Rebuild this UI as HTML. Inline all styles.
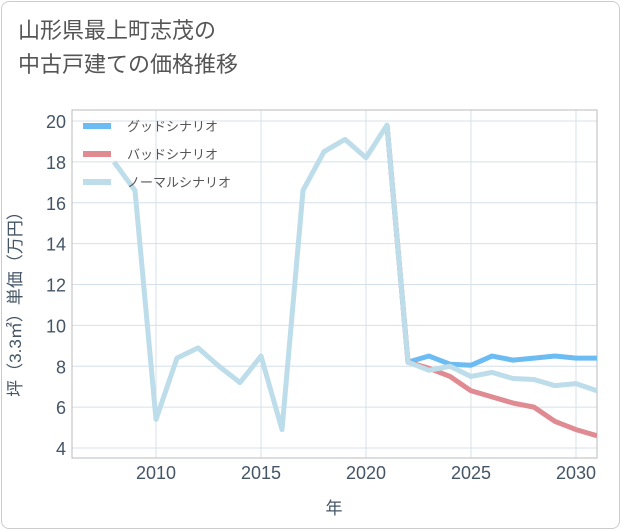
<!DOCTYPE html>
<html><head><meta charset="utf-8"><style>
body{margin:0;background:#fff;font-family:"Liberation Sans","Noto Sans CJK JP",sans-serif}
#card{position:absolute;left:1px;top:1px;width:617px;height:526px;border:1px solid #ccc;border-radius:8px;background:#fff}
#title{position:absolute;left:18px;top:14px;font-size:22px;line-height:34px;color:#555}
</style></head><body>
<div id="card"></div>
<div id="title">山形県最上町志茂の<br>中古戸建ての価格推移</div>
<svg id="chart" width="621" height="530" style="position:absolute;left:0;top:0"></svg>
<script>
const years=[2008,2009,2010,2011,2012,2013,2014,2015,2016,2017,2018,2019,2020,2021,2022,2023,2024,2025,2026,2027,2028,2029,2030,2031];
const normal=[18.0,16.6,5.4,8.4,8.9,8.0,7.2,8.5,4.9,16.6,18.5,19.1,18.2,19.8,8.2,7.8,8.0,7.5,7.7,7.4,7.35,7.05,7.15,6.8];
const futYears=[2021,2022,2023,2024,2025,2026,2027,2028,2029,2030,2031];
const good=[19.8,8.2,8.5,8.1,8.05,8.5,8.3,8.4,8.5,8.4,8.4];
const bad=[19.8,8.2,7.9,7.5,6.8,6.5,6.2,6.0,5.3,4.9,4.6];
const xTicks=[2010,2015,2020,2025,2030];
const yTicks=[4,6,8,10,12,14,16,18,20];
const NS="http://www.w3.org/2000/svg";
const svg=document.getElementById('chart');
const L=72,R=597,T=110,B=458;
const x=v=>156+(v-2010)*21;
const y=v=>121+(20-v)*(448-121)/16;
function mk(t,a,p){const e=document.createElementNS(NS,t);for(const k in a)e.setAttribute(k,a[k]);(p||svg).appendChild(e);return e;}
const defs=mk('defs',{});const cp=mk('clipPath',{id:'c'},defs);mk('rect',{x:L,y:T,width:R-L,height:B-T},cp);
yTicks.forEach(v=>{const l=mk('line',{x1:L,x2:R,y1:y(v),y2:y(v),stroke:'#d5e0ea','stroke-width':1});


const t=mk('text',{x:66,y:y(v)+7,'text-anchor':'end','font-size':18,fill:'#445566'});t.textContent=v;

});
xTicks.forEach(v=>{const l=mk('line',{x1:x(v),x2:x(v),y1:T,y2:B,stroke:'#d5e0ea','stroke-width':1});


const t=mk('text',{x:x(v),y:479,'text-anchor':'middle','font-size':18,fill:'#445566'});t.textContent=v;

});
const fr=mk('rect',{x:L,y:T,width:R-L,height:B-T,fill:'none',stroke:'#bbb'});


function line(xs,vs,col,name){const p=mk('polyline',{points:xs.map((v,i)=>x(v)+','+y(vs[i])).join(' '),fill:'none',stroke:col,'stroke-width':5,'stroke-linejoin':'round','clip-path':'url(#c)'});

}
line(futYears,good,'#6bbcf2','good-scenario-line');
line(futYears,bad,'#e08a92','bad-scenario-line');
line(years,normal,'#bcdde9','normal-scenario-line');
[['グッドシナリオ','#6bbcf2'],['バッドシナリオ','#e08a92'],['ノーマルシナリオ','#bcdde9']].forEach((d,i)=>{
const yy=126+i*28;
const s=mk('line',{x1:83,x2:111,y1:yy,y2:yy,stroke:d[1],'stroke-width':6});


const t=mk('text',{x:127,y:yy+5,'font-size':13,fill:'#555'});t.textContent=d[0];

});
const xt=mk('text',{x:334,y:514,'text-anchor':'middle','font-size':17,fill:'#445566'});xt.textContent='年';


const yt=mk('text',{x:0,y:0,'text-anchor':'middle','font-size':17,fill:'#445566',transform:'translate(21,300) rotate(-90)'});yt.textContent='坪（3.3㎡）単価（万円）';


</script>
</body></html>
